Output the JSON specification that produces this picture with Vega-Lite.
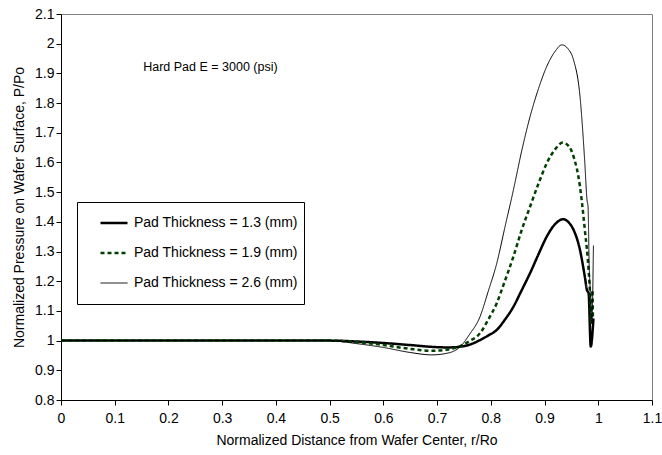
{
  "$schema": "https://vega.github.io/schema/vega-lite/v6.json",
  "width": 591,
  "height": 386,
  "autosize": {"type": "none"},
  "padding": {"left": 61, "top": 14, "right": 10, "bottom": 55},
  "background": "white",
  "config": {
    "font": "Liberation Sans",
    "view": {"stroke": "#808080", "strokeWidth": 1},
    "axis": {
      "grid": false,
      "domainColor": "#000000",
      "tickColor": "#000000",
      "tickSize": 5,
      "labelColor": "#000000",
      "titleColor": "#000000",
      "labelFont": "Liberation Sans",
      "titleFont": "Liberation Sans",
      "labelFontSize": 14,
      "titleFontSize": 14,
      "titleFontWeight": "normal",
      "format": "~g"
    }
  },
  "datasets": {
    "notes": [
      {"x": 0.153, "y": 1.92, "label": "Hard Pad E = 3000 (psi)"}
    ],
    "curves": [
      {"s": "Pad Thickness = 1.3 (mm)", "x": 0, "y": 1.0},
      {"s": "Pad Thickness = 1.3 (mm)", "x": 0.1, "y": 1.0},
      {"s": "Pad Thickness = 1.3 (mm)", "x": 0.2, "y": 1.0},
      {"s": "Pad Thickness = 1.3 (mm)", "x": 0.3, "y": 1.0},
      {"s": "Pad Thickness = 1.3 (mm)", "x": 0.4, "y": 1.0},
      {"s": "Pad Thickness = 1.3 (mm)", "x": 0.5, "y": 1.0},
      {"s": "Pad Thickness = 1.3 (mm)", "x": 0.55, "y": 0.997},
      {"s": "Pad Thickness = 1.3 (mm)", "x": 0.6, "y": 0.992},
      {"s": "Pad Thickness = 1.3 (mm)", "x": 0.65, "y": 0.985},
      {"s": "Pad Thickness = 1.3 (mm)", "x": 0.7, "y": 0.978},
      {"s": "Pad Thickness = 1.3 (mm)", "x": 0.72, "y": 0.977},
      {"s": "Pad Thickness = 1.3 (mm)", "x": 0.745, "y": 0.98},
      {"s": "Pad Thickness = 1.3 (mm)", "x": 0.76, "y": 0.986},
      {"s": "Pad Thickness = 1.3 (mm)", "x": 0.78, "y": 1.002},
      {"s": "Pad Thickness = 1.3 (mm)", "x": 0.795, "y": 1.017},
      {"s": "Pad Thickness = 1.3 (mm)", "x": 0.811, "y": 1.036},
      {"s": "Pad Thickness = 1.3 (mm)", "x": 0.826, "y": 1.07},
      {"s": "Pad Thickness = 1.3 (mm)", "x": 0.842, "y": 1.114},
      {"s": "Pad Thickness = 1.3 (mm)", "x": 0.857, "y": 1.168},
      {"s": "Pad Thickness = 1.3 (mm)", "x": 0.873, "y": 1.227},
      {"s": "Pad Thickness = 1.3 (mm)", "x": 0.889, "y": 1.292},
      {"s": "Pad Thickness = 1.3 (mm)", "x": 0.904, "y": 1.35},
      {"s": "Pad Thickness = 1.3 (mm)", "x": 0.92, "y": 1.393},
      {"s": "Pad Thickness = 1.3 (mm)", "x": 0.935, "y": 1.409},
      {"s": "Pad Thickness = 1.3 (mm)", "x": 0.945, "y": 1.398},
      {"s": "Pad Thickness = 1.3 (mm)", "x": 0.954, "y": 1.373},
      {"s": "Pad Thickness = 1.3 (mm)", "x": 0.966, "y": 1.305},
      {"s": "Pad Thickness = 1.3 (mm)", "x": 0.975, "y": 1.215},
      {"s": "Pad Thickness = 1.3 (mm)", "x": 0.979, "y": 1.17},
      {"s": "Pad Thickness = 1.3 (mm)", "x": 0.982, "y": 1.16},
      {"s": "Pad Thickness = 1.3 (mm)", "x": 0.986, "y": 0.98},
      {"s": "Pad Thickness = 1.3 (mm)", "x": 0.991, "y": 1.075},

      {"s": "Pad Thickness = 1.9 (mm)", "x": 0, "y": 1.0},
      {"s": "Pad Thickness = 1.9 (mm)", "x": 0.1, "y": 1.0},
      {"s": "Pad Thickness = 1.9 (mm)", "x": 0.2, "y": 1.0},
      {"s": "Pad Thickness = 1.9 (mm)", "x": 0.3, "y": 1.0},
      {"s": "Pad Thickness = 1.9 (mm)", "x": 0.4, "y": 1.0},
      {"s": "Pad Thickness = 1.9 (mm)", "x": 0.5, "y": 1.0},
      {"s": "Pad Thickness = 1.9 (mm)", "x": 0.55, "y": 0.995},
      {"s": "Pad Thickness = 1.9 (mm)", "x": 0.6, "y": 0.985},
      {"s": "Pad Thickness = 1.9 (mm)", "x": 0.65, "y": 0.972},
      {"s": "Pad Thickness = 1.9 (mm)", "x": 0.69, "y": 0.966},
      {"s": "Pad Thickness = 1.9 (mm)", "x": 0.72, "y": 0.97},
      {"s": "Pad Thickness = 1.9 (mm)", "x": 0.745, "y": 0.983},
      {"s": "Pad Thickness = 1.9 (mm)", "x": 0.76, "y": 0.998},
      {"s": "Pad Thickness = 1.9 (mm)", "x": 0.78, "y": 1.025},
      {"s": "Pad Thickness = 1.9 (mm)", "x": 0.795, "y": 1.07},
      {"s": "Pad Thickness = 1.9 (mm)", "x": 0.811, "y": 1.126},
      {"s": "Pad Thickness = 1.9 (mm)", "x": 0.826, "y": 1.2},
      {"s": "Pad Thickness = 1.9 (mm)", "x": 0.842, "y": 1.283},
      {"s": "Pad Thickness = 1.9 (mm)", "x": 0.857, "y": 1.37},
      {"s": "Pad Thickness = 1.9 (mm)", "x": 0.873, "y": 1.451},
      {"s": "Pad Thickness = 1.9 (mm)", "x": 0.889, "y": 1.53},
      {"s": "Pad Thickness = 1.9 (mm)", "x": 0.904, "y": 1.597},
      {"s": "Pad Thickness = 1.9 (mm)", "x": 0.92, "y": 1.645},
      {"s": "Pad Thickness = 1.9 (mm)", "x": 0.934, "y": 1.667},
      {"s": "Pad Thickness = 1.9 (mm)", "x": 0.945, "y": 1.655},
      {"s": "Pad Thickness = 1.9 (mm)", "x": 0.954, "y": 1.62},
      {"s": "Pad Thickness = 1.9 (mm)", "x": 0.966, "y": 1.518},
      {"s": "Pad Thickness = 1.9 (mm)", "x": 0.975, "y": 1.373},
      {"s": "Pad Thickness = 1.9 (mm)", "x": 0.982, "y": 1.238},
      {"s": "Pad Thickness = 1.9 (mm)", "x": 0.985, "y": 1.148},
      {"s": "Pad Thickness = 1.9 (mm)", "x": 0.987, "y": 1.06},
      {"s": "Pad Thickness = 1.9 (mm)", "x": 0.989, "y": 1.17},
      {"s": "Pad Thickness = 1.9 (mm)", "x": 0.99, "y": 1.08},

      {"s": "Pad Thickness = 2.6 (mm)", "x": 0, "y": 1.0},
      {"s": "Pad Thickness = 2.6 (mm)", "x": 0.1, "y": 1.0},
      {"s": "Pad Thickness = 2.6 (mm)", "x": 0.2, "y": 1.0},
      {"s": "Pad Thickness = 2.6 (mm)", "x": 0.3, "y": 1.0},
      {"s": "Pad Thickness = 2.6 (mm)", "x": 0.4, "y": 1.0},
      {"s": "Pad Thickness = 2.6 (mm)", "x": 0.5, "y": 1.0},
      {"s": "Pad Thickness = 2.6 (mm)", "x": 0.55, "y": 0.99},
      {"s": "Pad Thickness = 2.6 (mm)", "x": 0.6, "y": 0.977},
      {"s": "Pad Thickness = 2.6 (mm)", "x": 0.65, "y": 0.96},
      {"s": "Pad Thickness = 2.6 (mm)", "x": 0.69, "y": 0.952},
      {"s": "Pad Thickness = 2.6 (mm)", "x": 0.72, "y": 0.958},
      {"s": "Pad Thickness = 2.6 (mm)", "x": 0.745, "y": 0.983},
      {"s": "Pad Thickness = 2.6 (mm)", "x": 0.76, "y": 1.02},
      {"s": "Pad Thickness = 2.6 (mm)", "x": 0.78, "y": 1.081},
      {"s": "Pad Thickness = 2.6 (mm)", "x": 0.795, "y": 1.165},
      {"s": "Pad Thickness = 2.6 (mm)", "x": 0.811, "y": 1.26},
      {"s": "Pad Thickness = 2.6 (mm)", "x": 0.826, "y": 1.38},
      {"s": "Pad Thickness = 2.6 (mm)", "x": 0.842, "y": 1.507},
      {"s": "Pad Thickness = 2.6 (mm)", "x": 0.857, "y": 1.635},
      {"s": "Pad Thickness = 2.6 (mm)", "x": 0.873, "y": 1.754},
      {"s": "Pad Thickness = 2.6 (mm)", "x": 0.889, "y": 1.85},
      {"s": "Pad Thickness = 2.6 (mm)", "x": 0.904, "y": 1.923},
      {"s": "Pad Thickness = 2.6 (mm)", "x": 0.92, "y": 1.975},
      {"s": "Pad Thickness = 2.6 (mm)", "x": 0.932, "y": 1.996},
      {"s": "Pad Thickness = 2.6 (mm)", "x": 0.945, "y": 1.98},
      {"s": "Pad Thickness = 2.6 (mm)", "x": 0.954, "y": 1.945},
      {"s": "Pad Thickness = 2.6 (mm)", "x": 0.966, "y": 1.822},
      {"s": "Pad Thickness = 2.6 (mm)", "x": 0.975, "y": 1.597},
      {"s": "Pad Thickness = 2.6 (mm)", "x": 0.979, "y": 1.474},
      {"s": "Pad Thickness = 2.6 (mm)", "x": 0.981, "y": 1.45},
      {"s": "Pad Thickness = 2.6 (mm)", "x": 0.983, "y": 1.26},
      {"s": "Pad Thickness = 2.6 (mm)", "x": 0.985, "y": 1.17},
      {"s": "Pad Thickness = 2.6 (mm)", "x": 0.988, "y": 1.06},
      {"s": "Pad Thickness = 2.6 (mm)", "x": 0.991, "y": 1.32}
    ]
  },
  "encoding": {
    "x": {
      "field": "x", "type": "quantitative",
      "scale": {"domain": [0, 1.1], "nice": false, "zero": false},
      "axis": {"values": [0, 0.1, 0.2, 0.3, 0.4, 0.5, 0.6, 0.7, 0.8, 0.9, 1, 1.1], "title": "Normalized Distance from Wafer Center, r/Ro", "titlePadding": 8, "labelPadding": 6, "labelOverlap": false, "labelFlush": false}
    },
    "y": {
      "field": "y", "type": "quantitative",
      "scale": {"domain": [0.8, 2.1], "nice": false, "zero": false},
      "axis": {"values": [0.8, 0.9, 1, 1.1, 1.2, 1.3, 1.4, 1.5, 1.6, 1.7, 1.8, 1.9, 2, 2.1], "title": "Normalized Pressure on Wafer Surface, P/Po", "titlePadding": 8, "labelPadding": 2, "labelOverlap": false, "labelFlush": false, "labelBound": false}
    }
  },
  "layer": [
    {
      "data": {"name": "curves"},
      "mark": {"type": "line", "clip": true, "interpolate": "monotone"},
      "encoding": {
        "order": {"field": "x", "type": "quantitative"},
        "color": {
          "field": "s", "type": "nominal",
          "scale": {"domain": ["Pad Thickness = 1.3 (mm)", "Pad Thickness = 1.9 (mm)", "Pad Thickness = 2.6 (mm)"], "range": ["#000000", "#004000", "#000000"]},
          "legend": {
            "title": null,
            "orient": "none",
            "legendX": 16,
            "legendY": 188,
            "strokeColor": "#000000",
            "fillColor": "#ffffff",
            "padding": 6,
            "symbolType": "stroke",
            "symbolSize": 729,
            "symbolOffset": 16,
            "clipHeight": 30,
            "labelFontSize": 14,
            "labelFont": "Liberation Sans",
            "labelColor": "#000000",
            "labelOffset": 5,
            "rowPadding": 0,
            "labelLimit": 300
          }
        },
        "strokeDash": {
          "field": "s", "type": "nominal",
          "scale": {"domain": ["Pad Thickness = 1.3 (mm)", "Pad Thickness = 1.9 (mm)", "Pad Thickness = 2.6 (mm)"], "range": [[1, 0], [4, 3], [1, 0]]},
          "legend": {"title": null}
        },
        "strokeWidth": {
          "field": "s", "type": "nominal",
          "scale": {"type": "ordinal", "domain": ["Pad Thickness = 1.3 (mm)", "Pad Thickness = 1.9 (mm)", "Pad Thickness = 2.6 (mm)"], "range": [2.5, 2.5, 1]},
          "legend": {"title": null}
        }
      }
    },
    {
      "data": {"name": "notes"},
      "mark": {"type": "text", "align": "left", "baseline": "middle", "fontSize": 12.5, "font": "Liberation Sans", "color": "#000000"},
      "encoding": {
        "text": {"field": "label", "type": "nominal"}
      }
    }
  ]
}
